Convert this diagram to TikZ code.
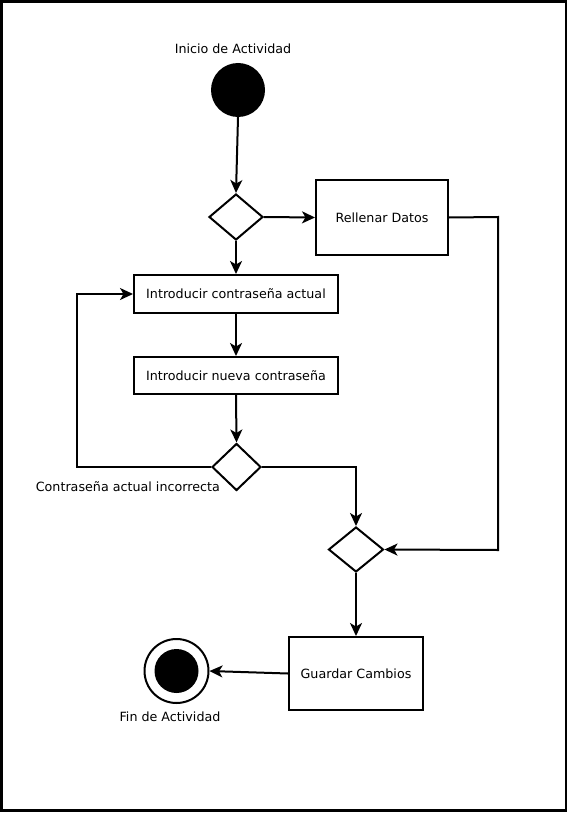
\documentclass[tikz,border=0pt]{standalone}
\usepackage{fontspec}
\setmainfont{DejaVu Sans}
\usetikzlibrary{shapes.geometric,arrows.meta}
\begin{document}
\begin{tikzpicture}[x=1pt,y=-1pt,
  every node/.style={font=\fontsize{12.7}{14}\selectfont},
  act/.style={draw,line width=2pt,rectangle,inner sep=0pt},
  dec/.style={draw,line width=2pt,diamond,inner sep=0pt,aspect=1.1},
  lbl/.style={inner sep=0pt},
  flow/.style={line width=2pt,-{Stealth[length=13pt,width=12pt,inset=3.5pt]}},
  plain/.style={line width=2pt}]
\useasboundingbox (0,0) rectangle (568,813);
\draw[line width=2.2pt] (1.5,1.5) rectangle (566,810.5);
% start
\node[circle,fill=black,minimum size=54pt,inner sep=0pt] (start) at (238,90) {};
\node[lbl] (startl) at (233,49) {Inicio de Actividad};
% decision 1
\node[dec,minimum width=54pt,minimum height=46pt] (d1) at (236,217) {};
\node[act,minimum width=132pt,minimum height=75pt] (rell) at (382,217.5) {Rellenar Datos};
\node[act,minimum width=204pt,minimum height=38pt] (b1) at (236,294) {Introducir contraseña actual};
\node[act,minimum width=204pt,minimum height=37pt] (b2) at (236,375.5) {Introducir nueva contraseña};
\node[dec,minimum width=49pt,minimum height=47pt] (d2) at (236.5,467) {};
\node[lbl,anchor=east] (d2l) at (220,487) {Contraseña actual incorrecta};
\node[dec,minimum width=55pt,minimum height=45pt] (d3) at (356,549.5) {};
\node[act,minimum width=134pt,minimum height=73pt] (save) at (356,673.5) {Guardar Cambios};
\node[circle,draw,line width=2pt,minimum size=64pt,inner sep=0pt] (end) at (176.5,671) {};
\node[circle,fill=black,minimum size=44pt,inner sep=0pt] (endin) at (176.5,671) {};
\node[lbl] (endl) at (170,717) {Fin de Actividad};
% connectors
\coordinate (ll) at (77,467);
\coordinate (lu) at (77,294);
\coordinate (rr) at (498,217);
\coordinate (rd) at (498,550);
\coordinate (mr) at (356,467);
\draw[flow] (start.south) -- (d1.north);
\draw[flow] (d1.east) -- (rell.west);
\draw[flow] (d1.south) -- (b1.north);
\draw[flow] (b1.south) -- (b2.north);
\draw[flow] (b2.south) -- (d2.north);
\draw[flow] (d2.west) -- (ll) -- (lu) -- (b1.west);
\draw[flow] (d2.east) -- (mr) -- (d3.north);
\draw[flow] (rell.east) -- (rr) -- (rd) -- (d3.east);
\draw[flow] (d3.south) -- (save.north);
\draw[flow] (save.west) -- (end.east);
\end{tikzpicture}
\end{document}
